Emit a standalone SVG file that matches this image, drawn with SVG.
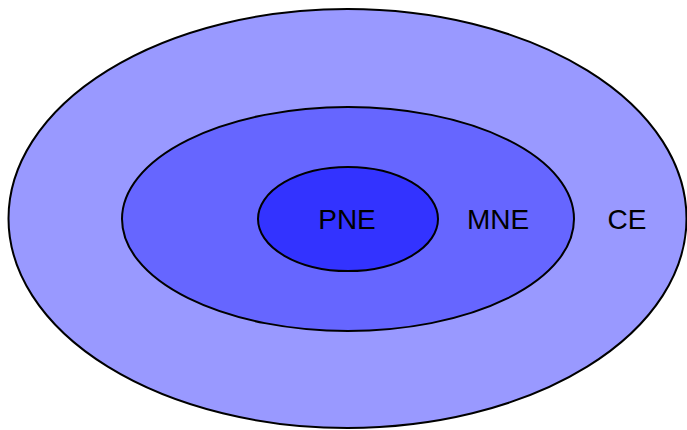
<svg xmlns="http://www.w3.org/2000/svg" width="687" height="430" viewBox="0 0 687 430">
<style>
.e{stroke:#000;stroke-width:2}
.t{font-family:"Liberation Sans",Arial,sans-serif;font-size:28px;fill:#000;text-anchor:middle}
</style>
<rect width="687" height="430" fill="#fff"/>
<g id="CE">
<ellipse class="e" cx="347.5" cy="218.5" rx="339" ry="209.5" fill="#9999ff"/>
<text class="t" x="627" y="229">CE</text>
</g>
<g id="MNE">
<ellipse class="e" cx="348" cy="219" rx="226" ry="112" fill="#6666ff"/>
<text class="t" x="498" y="229">MNE</text>
</g>
<g id="PNE">
<ellipse class="e" cx="348" cy="219" rx="90" ry="52" fill="#3333ff"/>
<text class="t" x="347" y="229">PNE</text>
</g>
<g id="connectors"/>
</svg>
